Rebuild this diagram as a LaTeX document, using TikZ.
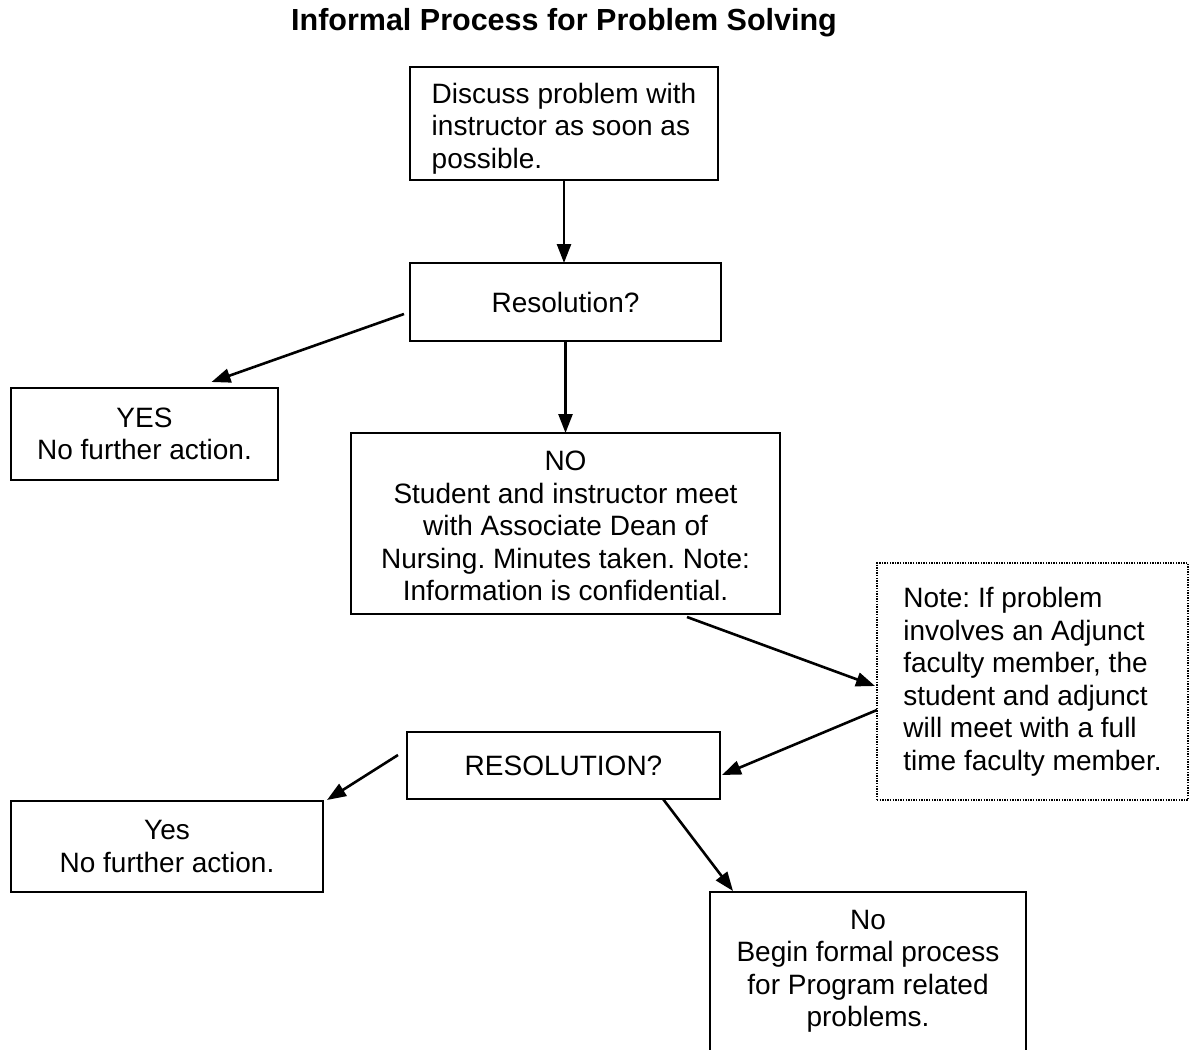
\documentclass[tikz,border=0pt]{standalone}
\usepackage{fontspec}
\setmainfont{Liberation Sans}
\usetikzlibrary{arrows.meta,calc}
\begin{document}
\frenchspacing
\begin{tikzpicture}[x=1pt,y=-1pt,
  box/.style={draw, line width=2.2pt, outer sep=0pt, inner sep=0pt, anchor=north west,
    align=center, font=\frenchspacing\fontsize{28}{32.5}\selectfont},
  notebox/.style={box, line width=1.4pt, dash pattern=on 1.4pt off 1.2pt, align=left},
  conn/.style={line width=2.6pt, -{Triangle[length=19pt,width=14pt]}},
  titlefont/.style={font=\bfseries\fontsize{30.5}{36}\selectfont}]
\clip (0,0) rectangle (1190,1049);
\node (title) [titlefont] at (564,23) {Informal Process for Problem Solving};
\node (A) [box, align=left, minimum width=308, minimum height=113, text height=95pt, text depth=6pt] at (410,67)
  {Discuss problem with\\instructor as soon as\\possible.};
\node (B) [box, minimum width=311, minimum height=78] at (410,263) {Resolution?};
\node (yes) [box, minimum width=267, minimum height=92] at (11,388) {YES\\No further action.};
\node (no) [box, minimum width=429, minimum height=181, text height=160pt, text depth=6pt] at (351,433)
  {NO\\Student and instructor meet\\with Associate Dean of\\Nursing. Minutes taken. Note:\\Information is confidential.};
\node (note) [notebox, minimum width=311, minimum height=237] at (877,563)
  {Note: If problem\\involves an Adjunct\\faculty member, the\\student and adjunct\\will meet with a full\\time faculty member.};
\node (res) [box, minimum width=313, minimum height=67] at (407,732) {RESOLUTION?};
\node (yes2) [box, minimum width=312, minimum height=91] at (11,801) {Yes\\No further action.};
\node (no2) [box] at (710,892)
  {\begin{minipage}[t][200pt][t]{316pt}\centering\vspace*{18pt}No\\Begin formal process\\for Program related\\problems.\end{minipage}};
\draw[conn] (A.south) -- (A.south |- B.north);
\draw[conn] ($(B.west)+(-6,12)$) -- ($(yes.north)+(67,-6)$);
\draw[conn] (B.south) -- (B.south |- no.north);
\draw[conn] ($(no.south)+(121.5,3)$) -- ($(note.west)+(-2,4.5)$);
\draw[conn] ($(note.west)+(0,28.5)$) -- ($(res.east)+(2,9.5)$);
\draw[conn] ($(res.west)+(-9,-10.5)$) -- ($(yes2.north east)+(4,-1)$);
\draw[conn] ($(res.south)+(99.5,0)$) -- ($(no2.north west)+(23,-1)$);
\end{tikzpicture}
\end{document}
